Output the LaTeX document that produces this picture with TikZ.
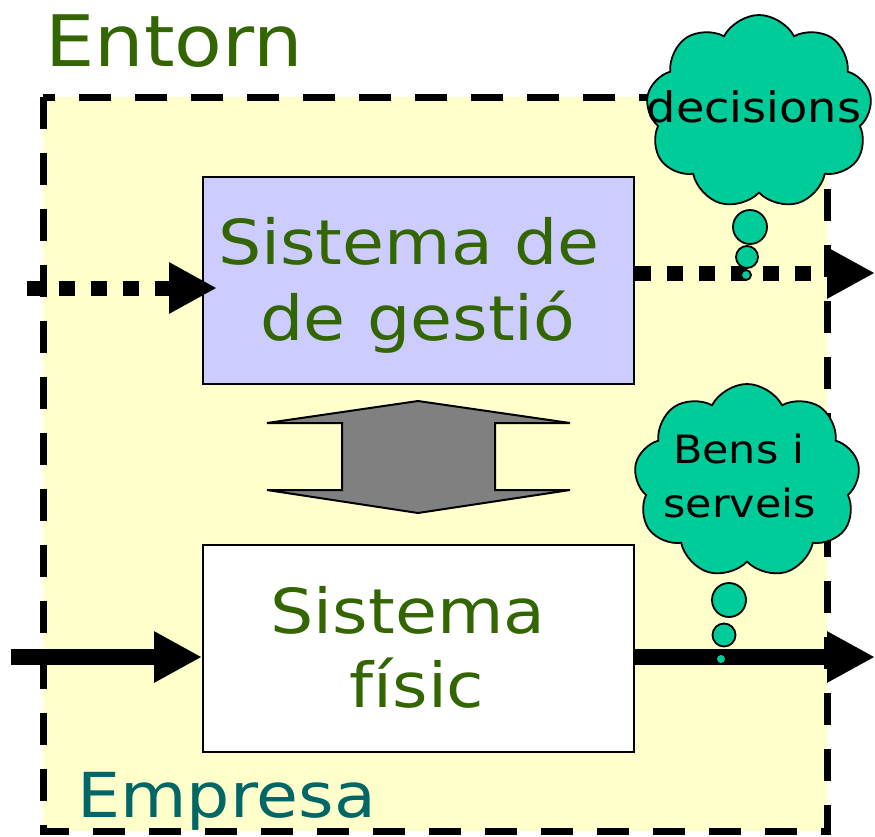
\documentclass[tikz,border=0pt]{standalone}
\usepackage{fontspec}
\setmainfont{DejaVu Sans}[FakeStretch=1.1]
\usetikzlibrary{shapes.symbols,arrows.meta}
\definecolor{bgyellow}{HTML}{FFFFCC}
\definecolor{lavender}{HTML}{CCCCFF}
\definecolor{cloudteal}{HTML}{00CC99}
\definecolor{txtgreen}{HTML}{336600}
\definecolor{txtteal}{HTML}{006666}
\definecolor{arrgray}{HTML}{808080}
\tikzset{
  sysbox/.style={draw=black, line width=2pt, minimum width=431pt, minimum height=207pt, inner sep=0pt},
  bigtxt/.style={text=txtgreen, inner sep=0pt, anchor=base, font=\fontsize{62}{75}\selectfont},
  cloudtxt/.style={text=black, inner sep=0pt, anchor=base, font=\fontsize{39}{50}\selectfont},
  thought/.style={cloud, cloud puffs=9, cloud puff arc=125, draw=black, line width=1.8pt, fill=cloudteal, inner sep=0pt, minimum width=226pt, minimum height=194pt},
  bubble/.style={circle, draw=black, line width=1.8pt, fill=cloudteal, inner sep=0pt},
  dotarrow/.style={line width=15pt, dash pattern=on 16pt off 16pt, -{Triangle[length=48pt,width=48pt]}},
  solidarrow/.style={line width=16pt, -{Triangle[length=48pt,width=48pt]}},
}
\begin{document}
\begin{tikzpicture}[x=1pt,y=-1pt]
\useasboundingbox (0,0) rectangle (875,836);
% enterprise area
\fill[bgyellow] (43,97) rectangle (827,831);
\draw[line width=7pt, dash pattern=on 32pt off 24pt] (43,97) rectangle (827,831);
% labels
\node[text=txtgreen, inner sep=0pt, anchor=base west, font=\fontsize{71}{80}\selectfont] (entorn) at (45,66) {Entorn};
\node[text=txtteal, inner sep=0pt, anchor=base west, font=\fontsize{62}{70}\selectfont] (empresa) at (77,817) {Empresa};
% boxes
\node[sysbox, fill=lavender] (gestio) at (418.5,280.5) {};
\node[sysbox, fill=white] (fisic) at (418.5,648.5) {};
\node[bigtxt] (g1) at (409,264) {Sistema de};
\node[bigtxt] (g2) at (418,340) {de gestió};
\node[bigtxt] (f1) at (408,633) {Sistema};
\node[bigtxt] (f2) at (417,707) {físic};
% double arrow
\draw[fill=arrgray, line width=2pt, line join=miter]
  (267,423) -- (418,401) -- (570,423) -- (495,423) -- (495,490) -- (570,490)
  -- (418,513) -- (267,490) -- (342,490) -- (342,423) -- cycle;
% arrows
\coordinate (inInfo) at (27,288);
\coordinate (outInfo) at (875,273);
\coordinate (inMat) at (11,657);
\coordinate (outMat) at (875,657);
\draw[dotarrow] (inInfo) -- ([xshift=15pt,yshift=-7.5pt]gestio.west);
\draw[dotarrow] ([yshift=7.5pt]gestio.east) -- (outInfo);
\draw[solidarrow] (inMat) -- ([yshift=-8.5pt]fisic.west);
\draw[solidarrow] ([yshift=-8.5pt]fisic.east) -- (outMat);
% cloud 1
\node[thought] (c1) at (759,112) {};
\node[bubble, minimum size=34pt] (c1a) at (750,227) {};
\node[bubble, minimum size=22pt] (c1b) at (747,257) {};
\node[bubble, minimum size=10pt] (c1c) at (746,275) {};
\node[cloudtxt, font=\fontsize{42}{50}\selectfont] (c1t) at (754,122) {decisions};
% cloud 2
\node[thought] (c2) at (747,481) {};
\node[bubble, minimum size=34pt] (c2a) at (729,600) {};
\node[bubble, minimum size=23pt] (c2b) at (724,635) {};
\node[bubble, minimum size=8pt, draw=none] (c2c) at (721,659) {};
\node[cloudtxt] (c2t1) at (738.5,463) {Bens i};
\node[cloudtxt] (c2t2) at (739.5,517) {serveis};
\end{tikzpicture}
\end{document}
